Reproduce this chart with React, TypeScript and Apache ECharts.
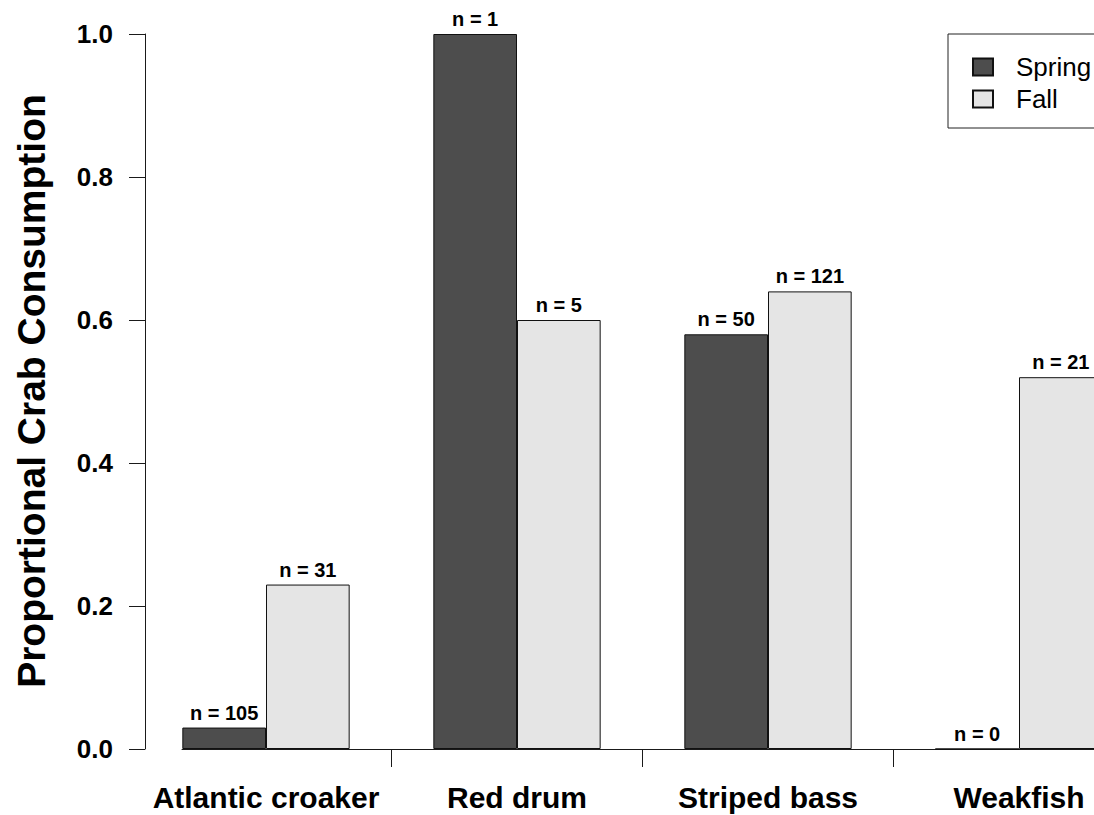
import React, { useEffect, useRef } from "react";
import * as echarts from "echarts";

const categories = ["Atlantic croaker", "Red drum", "Striped bass", "Weakfish"];
const seriesNames = ["Spring", "Fall"];
const springValues = [0.03, 1.0, 0.58, 0];
const fallValues = [0.23, 0.6, 0.64, 0.52];
const springN = [105, 1, 50, 0];
const fallN = [31, 5, 121, 21];
const yMin = 0;
const yMax = 1;
const yInterval = 0.2;
const yTitle = "Proportional Crab Consumption";

const FONT = '"Liberation Sans", Arial, Helvetica, sans-serif';
const AXIS_COLOR = "#1a1a1a";

export default function App() {
  const ref = useRef<HTMLDivElement>(null);

  useEffect(() => {
    if (!ref.current) return;
    const chart = echarts.init(ref.current, null, { renderer: "svg" });

    const barLabel = (nArr: number[]) => ({
      show: true,
      position: "top",
      distance: 5,
      formatter: (p: any) => "n = " + nArr[p.dataIndex],
      color: "#000",
      fontFamily: FONT,
      fontWeight: "bold",
      fontSize: 20,
    });

    const option: any = {
      animation: false,
      backgroundColor: "#ffffff",
      grid: [
        { left: 140.5, top: 34, width: 1004, height: 715, containLabel: false },
        { left: 182, top: 34, width: 978, height: 715, containLabel: false },
      ],
      legend: {
        data: seriesNames,
        orient: "vertical",
        left: 948,
        top: 34,
        padding: [20, 60, 16, 24],
        itemGap: 6,
        itemWidth: 20,
        itemHeight: 17,
        icon: "rect",
        borderColor: "#222",
        borderWidth: 1,
        textStyle: {
          fontFamily: FONT,
          fontSize: 26,
          color: "#000",
          padding: [0, 0, 0, 18],
        },
      },
      xAxis: [
        {
          type: "category",
          gridIndex: 0,
          data: categories,
          boundaryGap: true,
          axisLine: { show: false },
          axisTick: {
            show: true,
            interval: (i: number) => i > 0,
            length: 18,
            lineStyle: { color: AXIS_COLOR, width: 1 },
          },
          axisLabel: {
            interval: 0,
            color: "#000",
            fontFamily: FONT,
            fontWeight: "bold",
            fontSize: 30,
            margin: 33,
          },
          splitLine: { show: false },
        },
        {
          type: "value",
          gridIndex: 1,
          min: 0,
          max: 1,
          axisLine: { show: true, onZero: false, lineStyle: { color: AXIS_COLOR, width: 1 } },
          axisTick: { show: false },
          axisLabel: { show: false },
          splitLine: { show: false },
        },
      ],
      yAxis: [
        {
          type: "value",
          gridIndex: 0,
          min: yMin,
          max: yMax,
          interval: yInterval,
          offset: -4.5,
          axisLine: { show: true, lineStyle: { color: AXIS_COLOR, width: 1 } },
          axisTick: { show: true, length: 16, lineStyle: { color: AXIS_COLOR, width: 1 } },
          axisLabel: {
            color: "#000",
            fontFamily: FONT,
            fontWeight: "bold",
            fontSize: 26,
            margin: 32,
            formatter: (v: number) => v.toFixed(1),
          },
          splitLine: { show: false },
        },
        {
          type: "value",
          gridIndex: 1,
          min: 0,
          max: 1,
          show: false,
        },
      ],
      graphic: [
        {
          type: "text",
          x: 31,
          y: 391,
          rotation: Math.PI / 2,
          style: {
            text: yTitle,
            font: 'bold 39px "Liberation Sans", Arial, sans-serif',
            fill: "#000",
            textAlign: "center",
            textVerticalAlign: "middle",
          },
        },
      ],
      series: [
        {
          name: seriesNames[0],
          type: "bar",
          xAxisIndex: 0,
          yAxisIndex: 0,
          data: springValues,
          barWidth: "33.333%",
          barGap: "0%",
          itemStyle: { color: "#4d4d4d", borderColor: "#111", borderWidth: 1 },
          label: barLabel(springN),
        },
        {
          name: seriesNames[1],
          type: "bar",
          xAxisIndex: 0,
          yAxisIndex: 0,
          data: fallValues,
          barWidth: "33.333%",
          barGap: "0%",
          itemStyle: { color: "#e5e5e5", borderColor: "#111", borderWidth: 1 },
          label: barLabel(fallN),
        },
      ],
    };

    chart.setOption(option);
    return () => chart.dispose();
  }, []);

  return (
    <div
      style={{
        position: "absolute",
        left: 0,
        top: 0,
        width: 1094,
        height: 815,
        overflow: "hidden",
        background: "#fff",
      }}
    >
      <div ref={ref} style={{ width: 1160, height: 815 }} />
    </div>
  );
}
